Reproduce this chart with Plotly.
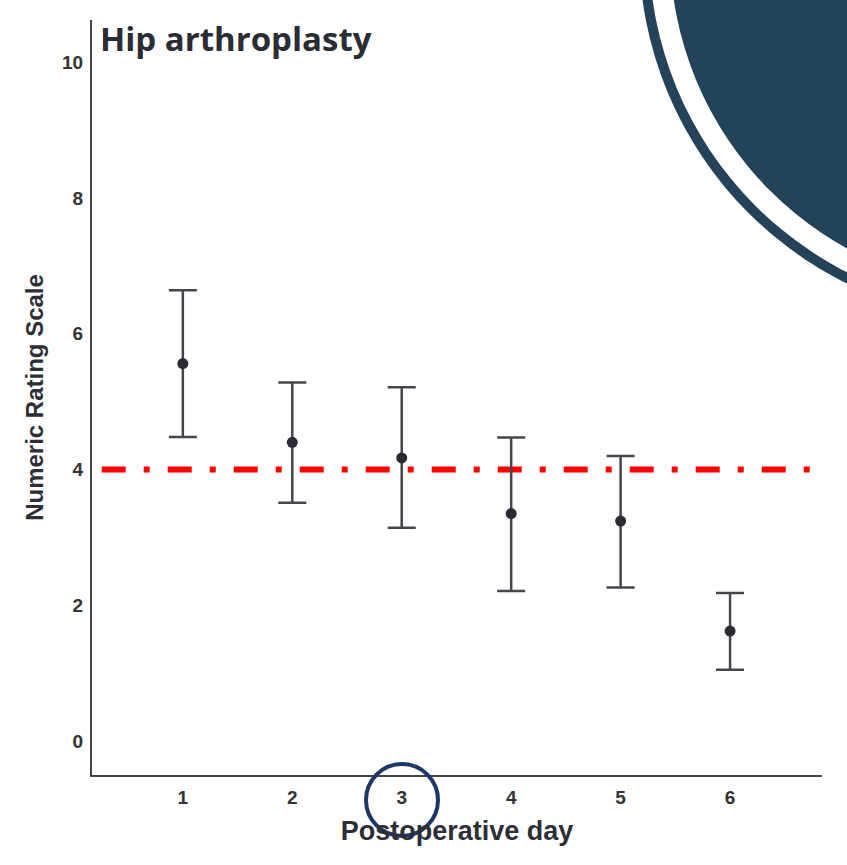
import plotly.graph_objects as go

days = [1, 2, 3, 4, 5, 6]
means = [5.56, 4.40, 4.17, 3.35, 3.24, 1.62]
upper = [6.64, 5.28, 5.21, 4.47, 4.20, 2.18]
lower = [4.48, 3.51, 3.14, 2.21, 2.26, 1.05]
threshold = 4.0
x_ticks = [1, 2, 3, 4, 5, 6]
y_ticks = [0, 2, 4, 6, 8, 10]

W, H = 847, 865
L, R, T, B = 92, 25, 20, 90
pw, ph = W - L - R, H - T - B
XR = [0.17, 6.84]
YR = [-0.5, 10.62]

def px(x):
    return (x - L) / pw

def py(y):
    return (H - B - y) / ph

fig = go.Figure()

line_x0 = XR[0] + (101.7 - L) / pw * (XR[1] - XR[0])
fig.add_trace(go.Scatter(
    x=[line_x0, XR[1]], y=[threshold, threshold], mode="lines",
    line=dict(color="#ff0000", width=6, dash="24px,18px,6px,18px"),
    hoverinfo="skip", showlegend=False))

fig.add_trace(go.Scatter(
    x=days, y=means, mode="markers",
    marker=dict(size=11, color="#2b2c33"),
    error_y=dict(type="data", symmetric=False,
                 array=[u - m for u, m in zip(upper, means)],
                 arrayminus=[m - l for m, l in zip(means, lower)],
                 color="#45464c", thickness=2.5, width=14),
    showlegend=False))

shapes = []
cx, cy = 1012, -51
for r_out, fill in [(373, "#244359"), (363, "white"), (342, "#244359")]:
    shapes.append(dict(type="circle", xref="paper", yref="paper",
                       x0=px(cx - r_out), x1=px(cx + r_out),
                       y0=py(cy + r_out), y1=py(cy - r_out),
                       fillcolor=fill, line=dict(width=0), layer="above"))
ccx, ccy, cr = 402, 800, 36
shapes.append(dict(type="circle", xref="paper", yref="paper",
                   x0=px(ccx - cr), x1=px(ccx + cr),
                   y0=py(ccy + cr), y1=py(ccy - cr),
                   line=dict(color="#1e3764", width=4), layer="above"))

fig.update_layout(
    width=W, height=H,
    margin=dict(l=L, r=R, t=T, b=B),
    plot_bgcolor="white", paper_bgcolor="white",
    font=dict(family="Liberation Sans, Arial, sans-serif", color="#333333"),
    shapes=shapes,
    annotations=[dict(text="<b>Hip arthroplasty</b>", xref="paper", yref="paper",
                      x=px(98), y=py(39), xanchor="left", yanchor="middle",
                      showarrow=False,
                      font=dict(family="Open Sans, sans-serif", size=33, color="#2a2d34"))],
    xaxis=dict(range=XR, tickvals=x_ticks, ticktext=[str(v) for v in x_ticks],
               showgrid=False, zeroline=False, showline=True, linecolor="#444444", linewidth=2,
               ticks="", ticklabelstandoff=4,
               tickfont=dict(size=19, weight="bold", color="#333333"),
               title=dict(text="<b>Postoperative day</b>", font=dict(size=27, color="#2d2f36"),
                          standoff=14)),
    yaxis=dict(range=YR, tickvals=y_ticks, ticktext=[str(v) for v in y_ticks],
               showgrid=False, zeroline=False, showline=True, linecolor="#444444", linewidth=2,
               ticks="", ticklabelstandoff=3,
               tickfont=dict(size=19, weight="bold", color="#333333"),
               title=dict(text="<b>Numeric Rating Scale</b>", font=dict(size=24, color="#2d2f36"),
                          standoff=12)),
)

fig.write_html("out.html")
